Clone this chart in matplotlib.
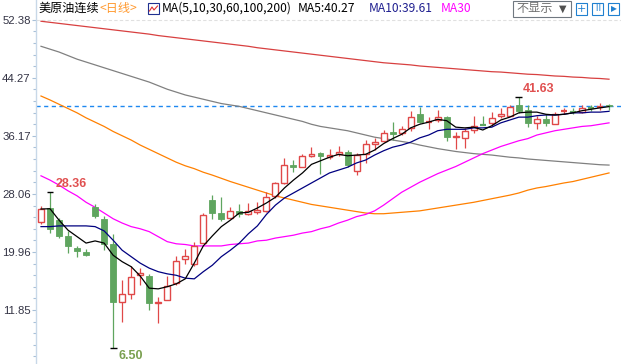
import matplotlib
matplotlib.use('Agg')
import matplotlib.pyplot as plt
from matplotlib.patches import Rectangle

plt.rcParams['font.family'] = ['Noto Sans CJK SC', 'DejaVu Sans']

# daily candles (oldest -> newest)
opens = [24.15, 26.1, 24.4, 22.2, 20.5, 19.96, 26.2, 24.6, 21.1, 13.0,
         14.1, 16.75, 16.6, 12.8, 13.2, 15.6, 19.0, 18.3, 21.2, 27.2,
         25.4, 24.7, 25.7, 25.3, 25.5, 25.7, 27.8, 29.6, 32.1, 31.8,
         33.4, 33.8, 33.2, 33.65, 33.9, 31.3, 33.6, 35.0, 35.5, 36.7,
         36.6, 37.3, 39.2, 38.0, 38.4, 38.8, 36.0, 35.9, 37.0, 37.8,
         38.0, 38.95, 38.95, 40.5, 39.8, 38.0, 38.5, 37.8, 39.5, 39.55,
         39.5, 40.15, 40.15, 40.5]
highs = [26.4, 28.36, 24.7, 22.9, 20.8, 20.4, 26.7, 25.0, 22.5, 16.0,
         18.0, 17.7, 16.9, 13.7, 16.6, 19.4, 20.4, 21.4, 25.4, 27.9,
         27.6, 26.2, 26.7, 26.8, 26.9, 28.3, 29.7, 33.1, 32.8, 33.6,
         34.6, 33.9, 34.3, 34.8, 34.2, 33.8, 35.6, 35.9, 37.0, 38.1,
         37.5, 39.6, 40.2, 38.8, 39.8, 38.95, 36.7, 37.3, 39.0, 39.0,
         39.5, 40.1, 40.5, 41.63, 40.5, 39.0, 39.2, 39.5, 40.1, 40.1,
         40.5, 40.5, 40.8, 40.7]
lows = [23.9, 22.6, 21.9, 19.8, 19.3, 19.4, 24.7, 20.2, 6.50, 10.2,
        13.4, 15.3, 11.85, 10.0, 13.2, 15.3, 18.3, 18.0, 21.2, 24.6,
        24.3, 24.7, 24.9, 25.1, 25.3, 25.5, 27.5, 29.5, 31.1, 31.8,
        33.2, 30.9, 32.9, 33.4, 31.8, 30.7, 32.4, 34.2, 35.3, 35.6,
        36.3, 36.9, 38.0, 37.1, 38.1, 35.5, 34.3, 34.5, 36.6, 37.7,
        37.6, 38.7, 38.95, 39.4, 37.4, 37.1, 37.6, 37.8, 39.2, 39.2,
        39.4, 39.6, 39.8, 39.8]
closes = [25.96, 23.2, 22.2, 20.8, 20.1, 19.5, 25.0, 21.1, 13.0, 14.1,
          16.5, 17.0, 12.8, 13.0, 15.2, 18.7, 19.4, 20.8, 25.1, 25.4,
          24.6, 25.7, 25.3, 25.7, 25.8, 27.6, 29.6, 32.1, 31.8, 33.4,
          33.65, 33.4, 33.5, 33.9, 32.1, 33.5, 35.0, 35.3, 36.6, 36.4,
          37.1, 38.8, 38.1, 38.1, 38.8, 36.0, 36.2, 36.9, 37.6, 37.7,
          38.7, 39.2, 40.2, 39.6, 38.0, 38.5, 38.0, 39.2, 39.6, 39.5,
          40.1, 40.1, 40.25, 40.3]

ma5 = [25.96, 26.0, 24.4, 23.0, 22.1, 21.2, 21.5, 21.2, 19.5, 18.6,
       17.9, 16.6, 14.9, 14.8, 15.1, 15.5, 16.2, 18.4, 20.8, 22.2,
       23.5, 24.4, 25.4, 25.5, 26.1, 26.8, 27.6, 28.9, 30.0, 31.0,
       32.2, 32.7, 33.2, 33.6, 33.4, 33.5, 33.6, 34.2, 35.1, 35.8,
       36.4, 37.3, 37.8, 38.1, 38.5, 38.3, 37.4, 37.3, 37.4, 37.0,
       37.6, 38.4, 38.8, 39.4, 39.5, 39.5, 39.2, 39.1, 39.2, 39.4,
       39.7, 39.9, 40.1, 40.27]
ma10 = [23.5, 23.5, 23.6, 23.6, 23.6, 23.6, 23.5, 22.9, 21.6, 20.2,
        19.3, 18.4, 17.7, 17.2, 16.9, 16.7, 16.3, 16.2, 17.2, 18.1,
        19.3, 20.2, 21.2, 22.5, 23.6, 25.2, 26.5, 27.5, 28.2, 28.9,
        29.6, 30.3, 31.0, 31.4, 31.8, 32.4, 32.8, 33.5, 34.1, 34.6,
        34.9, 35.3, 35.9, 36.3, 36.9, 37.1, 37.1, 37.1, 37.3, 37.3,
        37.4, 38.0, 38.4, 38.8, 38.8, 39.0, 39.1, 39.1, 39.2, 39.4,
        39.4, 39.5, 39.5, 39.61]
ma30 = [30.6, 30.0, 29.3, 28.5, 27.8, 26.9, 26.2, 25.4, 24.6, 24.0,
        23.5, 23.2, 22.8, 22.1, 21.4, 21.1, 21.0, 20.8, 20.8, 20.8,
        20.8, 21.0, 21.1, 21.2, 21.5, 21.6, 21.9, 22.1, 22.3, 22.6,
        22.8, 23.2, 23.5, 24.0, 24.4, 24.9, 25.2, 25.7, 26.5, 27.4,
        28.3, 29.0, 29.7, 30.3, 30.9, 31.4, 31.9, 32.5, 33.1, 33.7,
        34.2, 34.7, 35.1, 35.5, 35.8, 36.3, 36.6, 36.9, 37.1, 37.3,
        37.5, 37.6, 37.8, 38.0]
ma60 = [41.75, 41.2, 40.6, 40.0, 39.4, 38.7, 38.1, 37.5, 36.8, 36.2,
        35.6, 34.9, 34.3, 33.7, 33.1, 32.5, 32.0, 31.6, 31.1, 30.7,
        30.25, 29.8, 29.4, 29.0, 28.6, 28.2, 27.8, 27.5, 27.2, 26.9,
        26.6, 26.4, 26.2, 26.0, 25.8, 25.6, 25.4, 25.3, 25.3, 25.4,
        25.5, 25.6, 25.7, 25.9, 26.1, 26.3, 26.5, 26.7, 26.9, 27.15,
        27.4, 27.65, 27.9, 28.2, 28.6, 28.9, 29.1, 29.35, 29.6, 29.8,
        30.1, 30.4, 30.7, 31.0]
ma100 = [48.7, 48.3, 47.9, 47.4, 46.9, 46.5, 46.1, 45.7, 45.3, 44.9,
         44.5, 44.1, 43.7, 43.2, 42.7, 42.3, 41.9, 41.6, 41.3, 41.0,
         40.7, 40.5, 40.3, 40.0, 39.7, 39.4, 39.1, 38.8, 38.5, 38.2,
         37.8, 37.5, 37.3, 37.1, 36.9, 36.6, 36.3, 36.0, 35.8, 35.6,
         35.4, 35.2, 34.9, 34.65, 34.4, 34.2, 34.0, 33.85, 33.7, 33.6,
         33.5, 33.35, 33.2, 33.1, 32.95, 32.85, 32.75, 32.65, 32.55, 32.45,
         32.35, 32.25, 32.15, 32.1]
ma200 = [52.2, 52.05, 51.9, 51.75, 51.6, 51.45, 51.3, 51.15, 51.0, 50.85,
         50.7, 50.55, 50.4, 50.2, 50.05, 49.9, 49.75, 49.6, 49.45, 49.3,
         49.15, 49.0, 48.85, 48.7, 48.5, 48.35, 48.2, 48.05, 47.9, 47.75,
         47.6, 47.45, 47.3, 47.15, 47.0, 46.85, 46.7, 46.55, 46.4, 46.3,
         46.2, 46.1, 45.95, 45.85, 45.75, 45.65, 45.55, 45.45, 45.35, 45.25,
         45.15, 45.1, 45.0, 44.9, 44.8, 44.75, 44.65, 44.55, 44.5, 44.4,
         44.35, 44.25, 44.2, 44.1]

last_price = 40.4
ytick_vals = [11.85, 19.96, 28.06, 36.17, 44.27, 52.38]

UP = '#e04848'
DOWN = '#5fa55f'

fig = plt.figure(figsize=(6.21, 3.64), dpi=100)
ax = fig.add_axes([36 / 621, 0, 585 / 621, 1])

n = len(closes)
xs = list(range(n))
w = 0.33  # half body width

for i in xs:
    o, h, l, c = opens[i], highs[i], lows[i], closes[i]
    if c >= o:
        top, bot = c, o
        if top - bot < 0.15:
            ax.hlines(c, i - w, i + w, color=UP, lw=1.6, zorder=3)
            ax.vlines(i, l, h, color=UP, lw=0.9, zorder=3)
        else:
            ax.vlines(i, top, h, color=UP, lw=0.9, zorder=3)
            ax.vlines(i, l, bot, color=UP, lw=0.9, zorder=3)
            ax.add_patch(Rectangle((i - w, bot), 2 * w, top - bot, facecolor='white',
                                   edgecolor=UP, lw=1.0, zorder=3))
    else:
        ax.vlines(i, l, h, color=DOWN, lw=0.9, zorder=3)
        if o - c < 0.15:
            ax.hlines(c, i - w, i + w, color=DOWN, lw=1.6, zorder=3)
        else:
            ax.add_patch(Rectangle((i - w, c), 2 * w, o - c, facecolor=DOWN,
                                   edgecolor=DOWN, lw=0.6, zorder=3))

ax.plot(xs, ma200, color='#d84040', lw=0.9, zorder=2)
ax.plot(xs, ma100, color='#808080', lw=0.9, zorder=2)
ax.plot(xs, ma60, color='#ff8000', lw=0.9, zorder=2)
ax.plot(xs, ma30, color='#ff00ff', lw=0.9, zorder=2)
ax.plot(xs, ma10, color='#000080', lw=0.9, zorder=4)
ax.plot(xs, ma5, color='black', lw=0.9, zorder=4)

ax.axhline(last_price, color='#1e88f0', lw=1.0, ls=(0, (3, 2.5)), zorder=1)
ax.axhline(ytick_vals[-1], color='#e0e0e0', lw=0.8, ls=(0, (3, 2)), zorder=1)

# extreme markers
hi_i = highs.index(max(highs[:5]))
lo_i = lows.index(min(lows))
top_i = highs.index(max(highs))
for idx, val in [(hi_i, highs[hi_i]), (lo_i, lows[lo_i]), (top_i, highs[top_i])]:
    ax.hlines(val, idx - 0.38, idx + 0.38, color='black', lw=1.0, zorder=5)
ax.annotate(f'{highs[hi_i]:.2f}', (hi_i, highs[hi_i]), xytext=(3.8, 5.5), textcoords='offset points',
            color='#e05050', fontsize=9, fontweight='bold', family='Liberation Sans', va='center', ha='left')
ax.annotate(f'{lows[lo_i]:.2f}', (lo_i, lows[lo_i]), xytext=(3.8, -5.5), textcoords='offset points',
            color='#7aa050', fontsize=9, fontweight='bold', family='Liberation Sans', va='center', ha='left')
ax.annotate(f'{highs[top_i]:.2f}', (top_i, highs[top_i]), xytext=(3.0, 5.5), textcoords='offset points',
            color='#e05050', fontsize=9, fontweight='bold', family='Liberation Sans', va='center', ha='left')

ax.set_xlim(-0.555, 64.33)
ax.set_ylim(4.30, 55.17)
ax.set_xticks([])
ax.set_yticks(ytick_vals)
ax.set_yticklabels([f'{v:.2f}' for v in ytick_vals])
step = (ytick_vals[1] - ytick_vals[0]) / 5
minor = [ytick_vals[0] + step * k for k in range(-4, 26) if k % 5 != 0]
ax.set_yticks(minor, minor=True)
ax.tick_params(axis='y', which='major', length=3, width=0.8, color='#a8c0d8', pad=0.8,
               labelsize=8.2, labelcolor='#333344')
ax.tick_params(axis='y', which='minor', length=2, width=0.8, color='#a8c0d8')
for lab in ax.get_yticklabels():
    lab.set_family('Liberation Sans')
for s in ['top', 'right', 'bottom']:
    ax.spines[s].set_visible(False)
ax.spines['left'].set_color('#c8d8e8')
ax.spines['left'].set_linewidth(1.0)

# header
fy = 1 - 8.5 / 364
fig.text(38 / 621, fy, '美原油连续', fontsize=8.7, color='black', va='center')
fig.text(100 / 621, fy, '<日线>', fontsize=8.7, color='#ff9a30', va='center')
fig.patches.append(Rectangle((148 / 621, 1 - 14 / 364), 11 / 621, 11 / 364, transform=fig.transFigure,
                             facecolor='white', edgecolor='#203090', lw=0.8))
fig.lines.append(plt.Line2D([149.5 / 621, 152 / 621, 154 / 621, 157.5 / 621],
                            [1 - 11 / 364, 1 - 7 / 364, 1 - 10 / 364, 1 - 6 / 364],
                            transform=fig.transFigure, color='#e03030', lw=0.8))
fig.text(162 / 621, fy, 'MA(5,10,30,60,100,200)', fontsize=8.7, color='black', va='center')
fig.text(298 / 621, fy, 'MA5:40.27', fontsize=8.7, color='black', va='center')
fig.text(369 / 621, fy, 'MA10:39.61', fontsize=8.7, color='#202090', va='center')
fig.text(441 / 621, fy, 'MA30', fontsize=8.7, color='#ff00ff', va='center')

fig.patches.append(Rectangle((513 / 621, 1 - 17 / 364), 58 / 621, 16 / 364, transform=fig.transFigure,
                             facecolor='white', edgecolor='#707880', lw=0.8))
fig.text(516 / 621, fy, '不显示', fontsize=8.7, color='#707070', va='center')
fig.text(559 / 621, fy, '▼', fontsize=7, color='#505050', va='center', family='DejaVu Sans')
for x0 in [576, 592, 608]:
    fig.patches.append(Rectangle((x0 / 621, 1 - 15 / 364), 11 / 621, 12 / 364, transform=fig.transFigure,
                                 facecolor='white', edgecolor='#2080d0', lw=0.8))
fig.text(581.5 / 621, fy, '+', fontsize=8, color='#2080d0', va='center', ha='center', family='DejaVu Sans')
fig.text(597.5 / 621, fy, 'Ⅱ', fontsize=6.5, color='#2080d0', va='center', ha='center')
fig.text(613.5 / 621, fy, '▶', fontsize=5.5, color='#2080d0', va='center', ha='center', family='DejaVu Sans')

fig.savefig('out.png', dpi=100)
